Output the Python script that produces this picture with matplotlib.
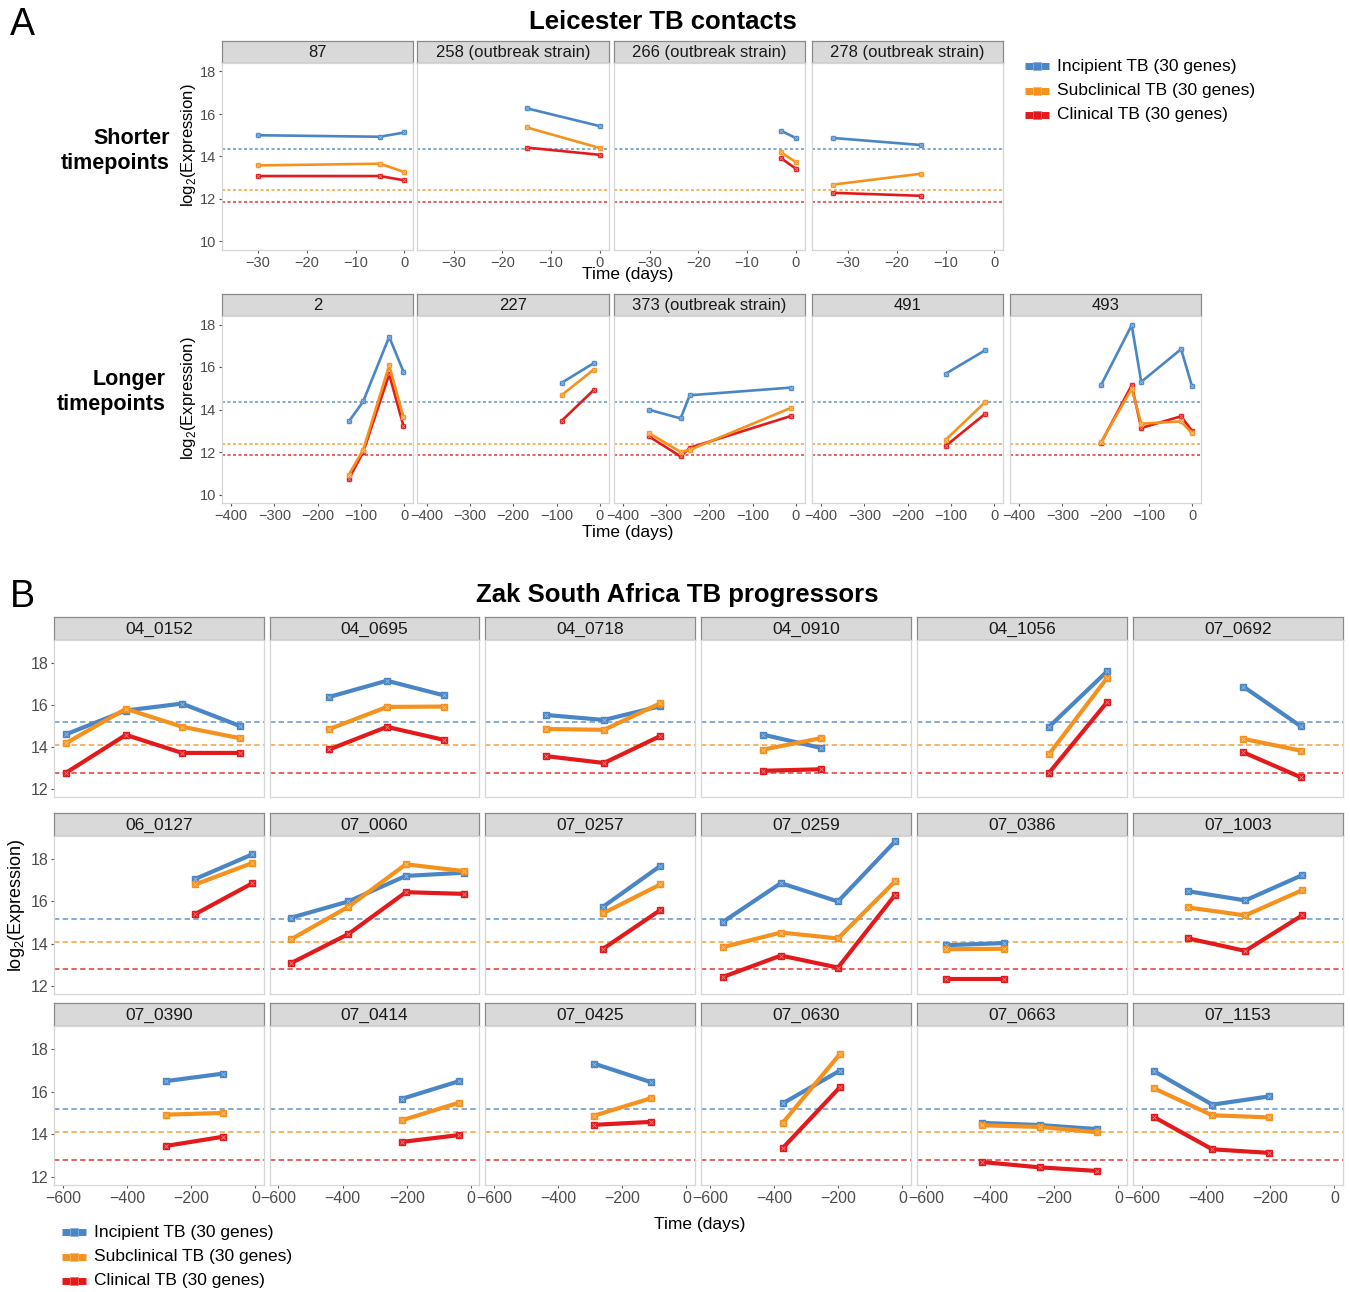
import numpy as np
import matplotlib.pyplot as plt
import matplotlib.colors as mcolors
from matplotlib.lines import Line2D

plt.rcParams['font.family'] = ['Liberation Sans', 'DejaVu Sans']
plt.rcParams['mathtext.fontset'] = 'custom'
plt.rcParams['mathtext.rm'] = 'Liberation Sans'
plt.rcParams['axes.unicode_minus'] = True

# ---------------- Leicester TB contacts: shorter timepoints ----------------
short_ids = ['87', '258 (outbreak strain)', '266 (outbreak strain)', '278 (outbreak strain)']
short_days = [[-30, -5, 0], [-15, 0], [-3, 0], [-33, -15]]
short_incipient = [[15.00, 14.93, 15.13], [16.27, 15.43], [15.21, 14.87], [14.87, 14.54]]
short_subclinical = [[13.58, 13.66, 13.27], [15.37, 14.40], [14.19, 13.74], [12.68, 13.19]]
short_clinical = [[13.08, 13.08, 12.88], [14.42, 14.08], [13.92, 13.43], [12.29, 12.15]]

# ---------------- Leicester TB contacts: longer timepoints ----------------
long_ids = ['2', '227', '373 (outbreak strain)', '491', '493']
long_days = [[-128, -95, -35, -2], [-88, -14], [-339, -266, -245, -12],
             [-112, -21], [-211, -140, -118, -26, -1]]
long_incipient = [[13.44, 14.38, 17.42, 15.78], [15.26, 16.18], [13.99, 13.58, 14.67, 15.03],
                  [15.69, 16.79], [15.14, 17.97, 15.30, 16.84, 15.11]]
long_subclinical = [[10.94, 12.10, 16.08, 13.64], [14.68, 15.88], [12.89, 12.00, 12.10, 14.07],
                    [12.58, 14.35], [12.45, 14.98, 13.33, 13.44, 12.89]]
long_clinical = [[10.74, 12.00, 15.66, 13.22], [13.47, 14.92], [12.73, 11.79, 12.20, 13.69],
                 [12.29, 13.80], [12.42, 15.14, 13.13, 13.68, 13.00]]

leicester_thresholds = [14.35, 12.40, 11.88]

# ---------------- Zak South Africa TB progressors ----------------
zak_ids = ['04_0152', '04_0695', '04_0718', '04_0910', '04_1056', '07_0692',
           '06_0127', '07_0060', '07_0257', '07_0259', '07_0386', '07_1003',
           '07_0390', '07_0414', '07_0425', '07_0630', '07_0663', '07_1153']
zak_days = [[-590, -404, -229, -48], [-441, -262, -84], [-439, -257, -81],
            [-434, -255], [-216, -36], [-284, -105],
            [-187, -10], [-561, -382, -203, -23], [-260, -81],
            [-559, -379, -201, -22], [-538, -358], [-458, -278, -100],
            [-278, -101], [-214, -36], [-288, -109],
            [-373, -195], [-425, -245, -66], [-563, -381, -203]]
zak_incipient = [[14.61, 15.74, 16.07, 15.00], [16.39, 17.16, 16.46], [15.53, 15.29, 15.95],
                 [14.59, 13.96], [14.97, 17.60], [16.88, 14.99],
                 [17.07, 18.23], [15.23, 16.00, 17.21, 17.36], [15.75, 17.69],
                 [15.04, 16.87, 16.00, 18.86], [13.93, 14.03], [16.49, 16.05, 17.25],
                 [16.51, 16.86], [15.68, 16.51], [17.33, 16.45],
                 [15.46, 17.00], [14.54, 14.44, 14.25], [16.98, 15.40, 15.79]]
zak_subclinical = [[14.19, 15.82, 14.97, 14.42], [14.86, 15.91, 15.93], [14.86, 14.82, 16.09],
                   [13.88, 14.42], [13.67, 17.28], [14.39, 13.83],
                   [16.81, 17.82], [14.21, 15.75, 17.76, 17.44], [15.44, 16.81],
                   [13.84, 14.53, 14.25, 16.97], [13.74, 13.76], [15.72, 15.34, 16.54],
                   [14.93, 15.01], [14.67, 15.50], [14.88, 15.71],
                   [14.55, 17.78], [14.43, 14.35, 14.10], [16.17, 14.90, 14.80]]
zak_clinical = [[12.78, 14.58, 13.72, 13.72], [13.89, 14.96, 14.34], [13.57, 13.24, 14.53],
                [12.87, 12.94], [12.78, 16.13], [13.75, 12.56],
                [15.41, 16.86], [13.08, 14.46, 16.44, 16.36], [13.76, 15.60],
                [12.43, 13.44, 12.87, 16.33], [12.31, 12.31], [14.26, 13.66, 15.35],
                [13.46, 13.89], [13.65, 13.97], [14.45, 14.59],
                [13.36, 16.22], [12.70, 12.45, 12.28], [14.82, 13.30, 13.13]]

zak_thresholds = [15.18, 14.10, 12.78]

signature_labels = ['Incipient TB (30 genes)', 'Subclinical TB (30 genes)', 'Clinical TB (30 genes)']
colors = ['#4A86C6', '#F5921E', '#E31A1C']

W, H = 1350, 1292
fig = plt.figure(figsize=(W / 100, H / 100), dpi=100)


def box(x0, y0, x1, y1):
    # pixel box (top-left origin) -> figure fraction rect
    return [x0 / W, 1 - y1 / H, (x1 - x0) / W, (y1 - y0) / H]


def lighten(c, f):
    rgb = np.array(mcolors.to_rgb(c))
    return tuple(rgb + (1 - rgb) * f)


def facet(x0, x1, ys, yt, yb, label, days, series, thresholds, xlim, ylim, xticks, yticks,
          lw, ms, dash, show_y, show_x, fs_tick, fs_strip):
    sax = fig.add_axes(box(x0, ys, x1, yt))
    sax.set_facecolor('#D9D9D9')
    sax.set_xticks([])
    sax.set_yticks([])
    for s in sax.spines.values():
        s.set_color('#8A8A8A')
        s.set_linewidth(0.9)
    sax.text(0.5, 0.47, label, ha='center', va='center', fontsize=fs_strip,
             color='#1A1A1A', transform=sax.transAxes)

    ax = fig.add_axes(box(x0, yt, x1, yb))
    for thr, c in zip(thresholds, colors):
        ax.axhline(thr, color=lighten(c, 0.12), lw=1.1, ls=dash, zorder=1)
    for vals, c, z in zip(series, colors, [3, 5, 4]):
        ax.plot(days, vals, color=c, lw=lw, zorder=z, solid_joinstyle='round',
                marker='s', ms=ms, mec=c, mfc=c)
        ax.plot(days, vals, ls='none', marker='x', ms=ms * 0.7, mew=0.6,
                color=lighten(c, 0.45), zorder=z)
    ax.set_xlim(xlim)
    ax.set_ylim(ylim)
    ax.set_xticks(xticks)
    ax.set_yticks(yticks)
    for s in ax.spines.values():
        s.set_color('#D6D6D6')
        s.set_linewidth(0.9)
    ax.tick_params(length=2.5, width=0.8, color='#555555', labelcolor='#4D4D4D',
                   labelsize=fs_tick, pad=1.5)
    if not show_y:
        ax.tick_params(axis='y', left=False, labelleft=False)
    if not show_x:
        ax.tick_params(axis='x', bottom=False, labelbottom=False)
    return ax


# ---------------- panel A ----------------
a_lefts = [222, 417.5, 613.5, 812, 1010]
a_w = 191
for i, pid in enumerate(short_ids):
    facet(a_lefts[i], a_lefts[i] + a_w, 41, 63, 250, pid, short_days[i],
          [short_incipient[i], short_subclinical[i], short_clinical[i]],
          leicester_thresholds, (-37.4, 1.8), (9.6, 18.4), [-30, -20, -10, 0],
          [10, 12, 14, 16, 18], 1.9, 3.2, (0, (2, 1.6)), i == 0, True, 10.5, 12)
for i, pid in enumerate(long_ids):
    facet(a_lefts[i], a_lefts[i] + a_w, 294, 316, 503, pid, long_days[i],
          [long_incipient[i], long_subclinical[i], long_clinical[i]],
          leicester_thresholds, (-421, 20), (9.6, 18.4), [-400, -300, -200, -100, 0],
          [10, 12, 14, 16, 18], 1.9, 3.2, (0, (2, 1.6)), i == 0, True, 10.5, 12)

fig.text(10 / W, 1 - 25 / H, 'A', fontsize=27, ha='left', va='center')
fig.text(663 / W, 1 - 22 / H, 'Leicester TB contacts', fontsize=18.5, fontweight='bold',
         ha='center', va='center')
fig.text(170 / W, 1 - 151 / H, 'Shorter\ntimepoints', fontsize=15.5, fontweight='bold',
         ha='right', va='center', multialignment='right', linespacing=1.25)
fig.text(166 / W, 1 - 392 / H, 'Longer\ntimepoints', fontsize=15.5, fontweight='bold',
         ha='right', va='center', multialignment='right', linespacing=1.25)
ylab = r'log$_\mathregular{2}$(Expression)'
fig.text(188 / W, 1 - 145 / H, ylab, rotation=90, fontsize=12, ha='center', va='center')
fig.text(188 / W, 1 - 398 / H, ylab, rotation=90, fontsize=12, ha='center', va='center')
fig.text(628 / W, 1 - 275 / H, 'Time (days)', fontsize=12.5, ha='center', va='center')
fig.text(628 / W, 1 - 533 / H, 'Time (days)', fontsize=12.5, ha='center', va='center')


def legend_at(x, y0, dy):
    for k, (lab, c) in enumerate(zip(signature_labels, colors)):
        y = 1 - (y0 + k * dy) / H
        fig.add_artist(Line2D([x / W, (x + 24) / W], [y, y], transform=fig.transFigure,
                              color=c, lw=5, solid_capstyle='butt'))
        fig.add_artist(Line2D([(x + 12) / W], [y], transform=fig.transFigure, marker='s',
                              ms=6, color=c, mec=lighten(c, 0.35), mew=0.6))
        fig.text((x + 32) / W, y, lab, fontsize=12.5, ha='left', va='center')


legend_at(1025, 66, 24.5)

# ---------------- panel B ----------------
b_lefts = [54, 269.5, 485, 701, 917, 1133]
b_w = 210
b_rows = [(617, 640, 797), (813, 836, 994), (1003, 1026, 1185)]
for i, pid in enumerate(zak_ids):
    r, c = divmod(i, 6)
    ys, yt, yb = b_rows[r]
    facet(b_lefts[c], b_lefts[c] + b_w, ys, yt, yb, pid, zak_days[i],
          [zak_incipient[i], zak_subclinical[i], zak_clinical[i]],
          zak_thresholds, (-628, 26.6), (11.62, 19.1), [-600, -400, -200, 0],
          [12, 14, 16, 18], 3.0, 4.2, (0, (3.5, 2.2)), c == 0, r == 2, 11.5, 12.5)

fig.text(10 / W, 1 - 597 / H, 'B', fontsize=27, ha='left', va='center')
fig.text(677 / W, 1 - 595 / H, 'Zak South Africa TB progressors', fontsize=18.5,
         fontweight='bold', ha='center', va='center')
fig.text(17 / W, 1 - 905 / H, ylab, rotation=90, fontsize=13, ha='center', va='center')
fig.text(700 / W, 1 - 1224 / H, 'Time (days)', fontsize=12.5, ha='center', va='center')

legend_at(62, 1232, 24.5)

fig.savefig('out.png', dpi=100)
